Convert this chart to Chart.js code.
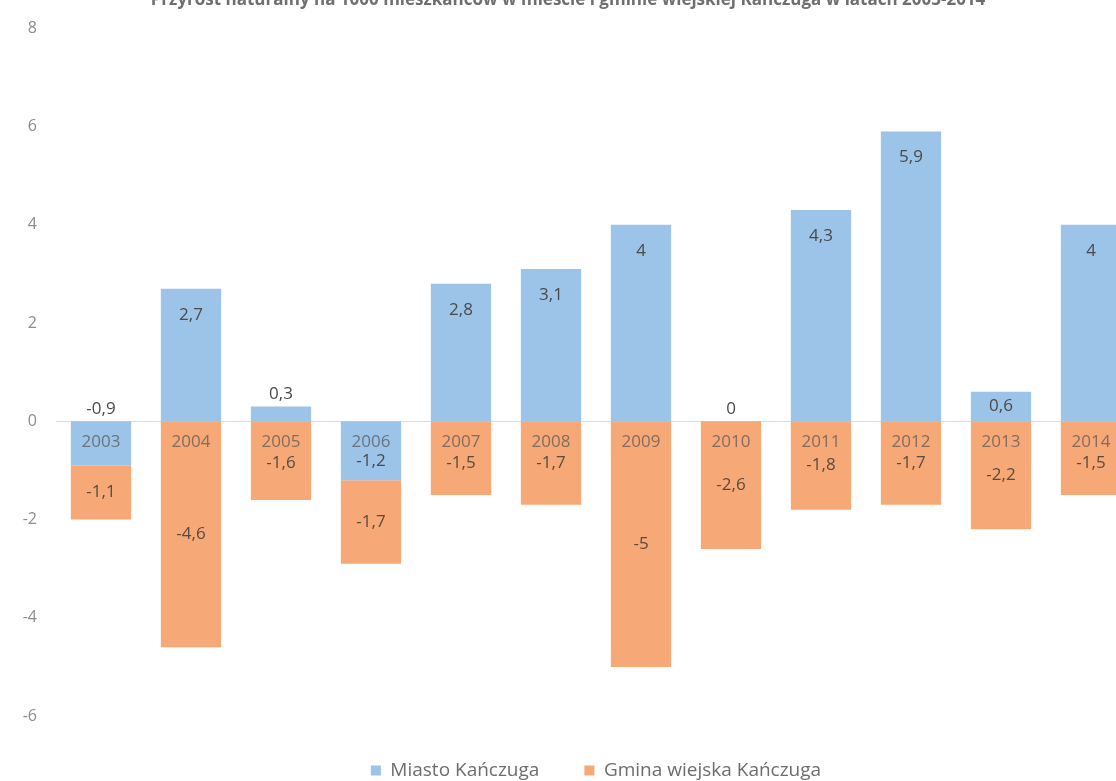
<!DOCTYPE html>
<html lang="pl">
<head>
<meta charset="utf-8">
<script src="https://cdn.jsdelivr.net/npm/chart.js@4.4.1/dist/chart.umd.min.js"></script>
<style>
    html, body { margin: 0; padding: 0; background: #fff; overflow: hidden; width: 1116px; height: 781px; }
    #wrap { position: absolute; left: 0; top: -14px; width: 1136px; height: 804px; }
</style>
</head>
<body>
<div id="wrap"><canvas id="chart"></canvas></div>
<script>
// Przyrost naturalny
const years = ['2003', '2004', '2005', '2006', '2007', '2008', '2009', '2010', '2011', '2012', '2013', '2014'];
const miasto = [-0.9, 2.7, 0.3, -1.2, 2.8, 3.1, 4, 0, 4.3, 5.9, 0.6, 4];
const gmina = [-1.1, -4.6, -1.6, -1.7, -1.5, -1.7, -5, -2.6, -1.8, -1.7, -2.2, -1.5];
const yTicks = [-6, -4, -2, 0, 2, 4, 6, 8];

const BLUE = '#9cc3e8';
const ORANGE = '#f6a877';

function fmt(v) {
    return String(v).replace('.', ',');
}

// value labels, placed roughly the way the original does it
const valueLabels = {
    id: 'valueLabels',
    afterDatasetsDraw(chart) {
        const ctx = chart.ctx;
        const zero = chart.scales.y.getPixelForValue(0);
        ctx.save();
        ctx.font = '17px "Open Sans", sans-serif';
        ctx.textAlign = 'center';
        ctx.textBaseline = 'middle';

        chart.getDatasetMeta(0).data.forEach((bar, i) => {
            const v = miasto[i];
            const h = Math.abs(bar.base - bar.y);
            let y;
            if (v > 0 && h > 24) {
                y = bar.y + Math.min(26, h / 2);
            } else if (v >= 0) {
                y = bar.y - 12;
            } else if (v > -1) {
                y = zero - 12;
            } else {
                y = (bar.y + bar.base) / 2 + 10;
            }
            ctx.fillStyle = '#4a4a4a';
            ctx.fillText(fmt(v), bar.x, y);
        });

        chart.getDatasetMeta(1).data.forEach((bar, i) => {
            const v = gmina[i];
            let y = (bar.y + bar.base) / 2;
            if (y < zero + 42) y = zero + 42;
            ctx.fillStyle = '#5a4b40';
            ctx.fillText(fmt(v), bar.x, y);
        });
        ctx.restore();
    }
};

new Chart(document.getElementById('chart'), {
    type: 'bar',
    data: {
        labels: years,
        datasets: [
            {
                label: 'Miasto Kańczuga',
                data: miasto,
                backgroundColor: BLUE,
                categoryPercentage: 1,
                barPercentage: 0.67
            },
            {
                label: 'Gmina wiejska Kańczuga',
                data: gmina,
                backgroundColor: ORANGE,
                categoryPercentage: 1,
                barPercentage: 0.67
            }
        ]
    },
    options: {
        responsive: true,
        maintainAspectRatio: false,
        animation: false,
        devicePixelRatio: 1,
        layout: { padding: 0 },
        scales: {
            x: {
                type: 'category',
                stacked: true,
                position: { y: 0 },
                grid: { display: false },
                border: { color: '#dcdcdc', width: 1 },
                ticks: {
                    z: 1,
                    padding: 3,
                    maxRotation: 0,
                    autoSkip: false,
                    color: 'rgba(85,85,85,0.72)',
                    font: { family: '"Open Sans", sans-serif', size: 17 }
                }
            },
            y: {
                stacked: true,
                min: -6,
                max: 8,
                grid: { display: false },
                border: { display: false },
                afterBuildTicks(scale) {
                    scale.ticks = yTicks.map(v => ({ value: v }));
                },
                afterFit(scale) {
                    scale.width = 56;
                },
                ticks: {
                    padding: 11,
                    color: '#8c8c8c',
                    font: { family: '"Open Sans", sans-serif', size: 16 }
                }
            }
        },
        plugins: {
            title: {
                display: true,
                text: 'Przyrost naturalny na 1000 mieszkańców w mieście i gminie wiejskiej Kańczuga w latach 2003-2014',
                color: '#6f6f6f',
                font: { family: '"Open Sans", sans-serif', size: 17, weight: 'bold' },
                padding: { top: 4, bottom: 18 }
            },
            legend: {
                position: 'bottom',
                fullSize: false,
                labels: {
                    boxWidth: 10,
                    boxHeight: 10,
                    padding: 45,
                    color: '#6d6d6d',
                    font: { family: '"Open Sans", sans-serif', size: 19 }
                }
            },
            tooltip: { enabled: false }
        }
    },
    plugins: [valueLabels]
});
</script>
</body>
</html>
